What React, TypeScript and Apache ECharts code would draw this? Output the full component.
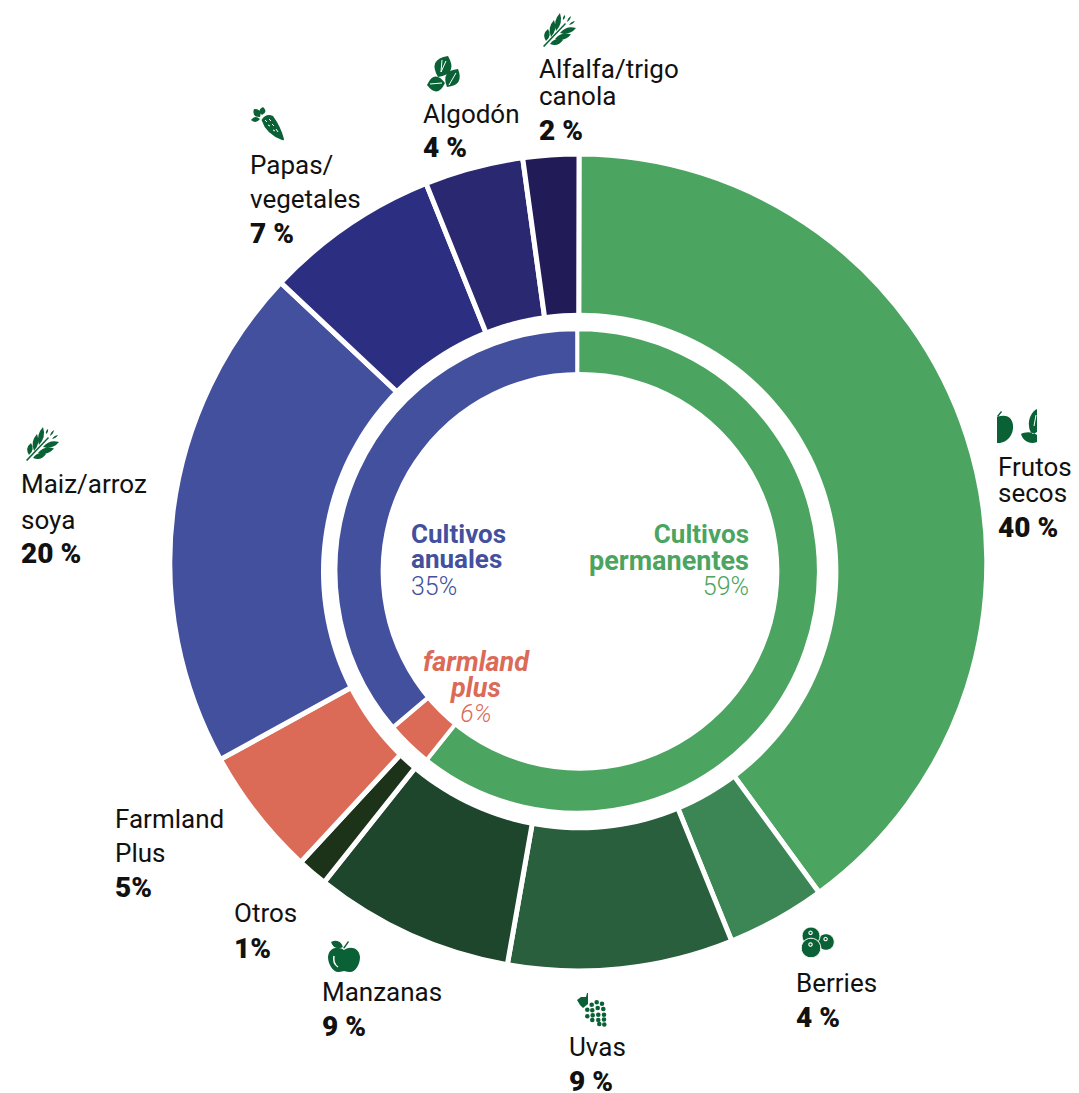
import React, { useEffect, useRef } from "react";
import * as echarts from "echarts";

// ---- data ----
const outerNames = ["Frutos secos", "Berries", "Uvas", "Manzanas", "Otros", "Farmland Plus", "Maiz/arroz soya", "Papas/vegetales", "Algodón", "Alfalfa/trigo canola"];
const outerValues = [39.9, 3.9, 8.9, 7.9, 1.2, 5.1, 20.0, 6.9, 3.9, 2.2];
const outerColors = ["#4CA461", "#3C8555", "#2A5F3D", "#1E462C", "#1C3319", "#DB6B57", "#43509E", "#2C2E81", "#2A2871", "#211C58"];
const innerNames = ["Cultivos permanentes", "farmland plus", "Cultivos anuales"];
const innerValues = [60.7, 3.1, 36.2];
const innerColors = ["#4CA461", "#DB6B57", "#43509E"];

const FONT = "Roboto";
const SIZE = 26;
const BOLD_SIZE = 28;
const INK = "#111111";
const ICON = "#0B6136";

// text: [string, x, baseline, bold?]
const outerLabels: [string, number, number, boolean][] = [
  ["Alfalfa/trigo", 539, 78, false], ["canola", 539, 105, false], ["2 %", 539, 140, true],
  ["Algodón", 423, 123, false], ["4 %", 423, 157, true],
  ["Papas/", 250, 174, false], ["vegetales", 250, 208, false], ["7 %", 250, 243, true],
  ["Maiz/arroz", 21, 493, false], ["soya", 21, 529, false], ["20 %", 21, 563, true],
  ["Farmland", 115, 828, false], ["Plus", 115, 862, false], ["5%", 115, 897, true],
  ["Otros", 234, 922, false], ["1%", 234, 958, true],
  ["Manzanas", 322, 1001, false], ["9 %", 322, 1036, true],
  ["Uvas", 569, 1056, false], ["9 %", 569, 1091, true],
  ["Berries", 796, 992, false], ["4 %", 796, 1027, true],
  ["Frutos", 998, 476, false], ["secos", 998, 502, false], ["40 %", 998, 537, true],
];

const leaf = (bx: number, by: number, tx: number, ty: number, w: number) => {
  const mx = (bx + tx) / 2, my = (by + ty) / 2;
  const dx = tx - bx, dy = ty - by, l = Math.hypot(dx, dy) || 1;
  const nx = (-dy / l) * w, ny = (dx / l) * w;
  return `M${bx} ${by}Q${mx + nx} ${my + ny} ${tx} ${ty}Q${mx - nx} ${my - ny} ${bx} ${by}Z`;
};
const dot = (x: number, y: number, r: number) => `M${x - r} ${y}A${r} ${r} 0 1 0 ${x + r} ${y}A${r} ${r} 0 1 0 ${x - r} ${y}Z`;

const wheatPath = [
  "M0 33L22 10L23 11L1.2 34Z",
  leaf(3, 28, 5, 16, 5.5), leaf(8, 24, 11, 7, 5.5), leaf(13, 18, 17, 0, 5.5),
  leaf(7, 31, 20, 27, 5.5), leaf(12, 26, 28, 21.5, 5.5), leaf(17, 20, 33, 15, 5.5),
  leaf(20, 7, 22, 2, 1.8), leaf(24, 9, 28, 3, 1.8), leaf(26, 12, 32, 8, 1.8),
].join("");
const seedsPath = [leaf(11, 21, 21, 0, 17), leaf(0, 29, 18, 27, 15), leaf(20, 31, 31, 13, 14)].join("");
const carrotPath = [
  "M10.5 13Q15 6 22 9Q30 20 33 32Q33 34 31 33Q15 27 10.5 13Z",
  leaf(11, 8, 12, 0, 6), leaf(9, 10, 3, 2, 7), leaf(9, 12, 0, 13, 5),
].join("");
const applePath = [
  "M16 12C10 8 1 9 0 19C0 27 6 35 11 34C13 34 15 33 16 33C17 33 19 34 21 34C27 35 32 27 32 19C31 9 22 8 16 12Z",
  leaf(15, 9, 3, 4, 7), "M15 10L20 3L21 4L16.5 10.5Z",
].join("");
const grapeDots = [[15.7, 11.7], [20.7, 9.3], [26, 10.7], [11.3, 16.7], [16.3, 17.3], [21.7, 15], [27.3, 16], [11.3, 23.3], [16.7, 22.3], [22.3, 21.7], [28, 21.7], [16.3, 27], [22.3, 27], [28, 26.5], [23.3, 31], [28.3, 31.5]];
const grapesPath = [
  ...grapeDots.map(([x, y]) => dot(x, y, 2.3)),
  "M1 7L5 4L10 4L11 0L12 0L12 7L12 11L7 15L4 12Z",
].join("");
const nutPath = "M0 6C8 3 15 5 16 14C17 24 10 31 3 32L0 32ZM0 5L4 0L5 1L1 6Z";
const almondsPath = "M17 0C12 2 8 10 9 17C9 21 11 24 13 25L17 23ZM1 25C4 23 12 22 17 26L17 33C10 36 3 32 1 25Z";
echarts.graphic.registerShape("wheat", echarts.graphic.extendPath(wheatPath, {}));
echarts.graphic.registerShape("seeds", echarts.graphic.extendPath(seedsPath, {}));
echarts.graphic.registerShape("carrot", echarts.graphic.extendPath(carrotPath, {}));
echarts.graphic.registerShape("apple", echarts.graphic.extendPath(applePath, {}));
echarts.graphic.registerShape("grapes", echarts.graphic.extendPath(grapesPath, {}));
echarts.graphic.registerShape("nut", echarts.graphic.extendPath(nutPath, {}));
echarts.graphic.registerShape("almonds", echarts.graphic.extendPath(almondsPath, {}));

const whiteLine = (x1: number, y1: number, x2: number, y2: number, w = 1) => ({
  type: "line", z: 11, shape: { x1, y1, x2, y2 }, style: { stroke: "#fff", lineWidth: w },
});
const icon = (type: string, x: number, y: number, details: any[] = []) => ({
  type: "group", x, y, children: [{ type, z: 10, style: { fill: ICON } }, ...details],
});
const berry = (x: number, y: number, r: number, z: number) => [
  { type: "circle", z, shape: { cx: x, cy: y, r }, style: { fill: ICON, stroke: "#fff", lineWidth: 1 } },
  { type: "circle", z, shape: { cx: x - r * 0.05, cy: y - r * 0.35, r: 1.7 }, style: { fill: ICON, stroke: "#fff", lineWidth: 1.1 } },
];
const icons: any[] = [
  icon("wheat", 543, 13),
  icon("wheat", 26, 427),
  icon("seeds", 427, 56, [whiteLine(15, 4, 14, 16), whiteLine(19, 5, 14, 16), whiteLine(3, 28, 15, 27), whiteLine(22, 29, 29, 17)]),
  icon("carrot", 251, 107, [whiteLine(14, 13, 16, 15), whiteLine(18, 12, 20, 14), whiteLine(17, 18, 19, 19), whiteLine(21, 17, 23, 19), whiteLine(22, 23, 24, 24), whiteLine(25, 22, 27, 25)]),
  icon("apple", 328, 938, [{ type: "bezierCurve", z: 11, shape: { x1: 6, y1: 18, cpx1: 5, cpy1: 23, cpx2: 7, cpy2: 27, x2: 10, y2: 29 }, style: { stroke: "#fff", lineWidth: 1.5, fill: "none" } }]),
  icon("grapes", 576, 993),
  icon("nut", 997, 411),
  icon("almonds", 1020, 409, [whiteLine(16, 6, 14, 17)]),
  { type: "group", x: 802, y: 927, children: [...berry(24, 15, 8.3, 10), ...berry(9, 9, 9, 11), ...berry(9, 21, 9.8, 12)] },
];

const label = (text: string, x: number, base: number, o: any = {}) => {
  const size = o.size ?? SIZE;
  return {
    type: "text", z: 20, x, y: base - 0.34 * size,
    style: {
      text, fill: o.color ?? INK, font: `${o.italic ? "italic " : ""}${o.weight ?? 400} ${size}px ${FONT}`,
      align: o.align ?? "left", verticalAlign: "middle",
    },
  };
};
const BLUE = innerColors[2], GREEN = innerColors[0], RED = innerColors[1];
const centerTexts = [
  label("Cultivos", 411, 543, { weight: 700, color: BLUE, size: 26 }),
  label("anuales", 411, 568, { weight: 700, color: BLUE, size: 26 }),
  label("35%", 411, 595, { weight: 300, color: BLUE, size: 25 }),
  label("Cultivos", 749, 543, { weight: 700, color: GREEN, align: "right", size: 26 }),
  label("permanentes", 749, 570, { weight: 700, color: GREEN, align: "right", size: 27 }),
  label("59%", 749, 595, { weight: 300, color: GREEN, align: "right", size: 25 }),
  label("farmland", 476, 671, { weight: 700, italic: true, color: RED, align: "center", size: 27 }),
  label("plus", 476, 697, { weight: 700, italic: true, color: RED, align: "center", size: 27 }),
  label("6%", 476, 722, { weight: 300, italic: true, color: RED, align: "center", size: 25 }),
];

const hole = (cx: number, cy: number, r: number) => ({
  type: "pie", center: [cx, cy], radius: [0, r], silent: true, label: { show: false }, labelLine: { show: false },
  itemStyle: { color: "#fff" }, data: [{ name: "", value: 1 }],
});

export default function App() {
  const ref = useRef<HTMLDivElement>(null);
  useEffect(() => {
    document.body.style.margin = "0";
    const chart = echarts.init(ref.current!, null, { renderer: "svg" });
    chart.setOption({
      animation: false,
      backgroundColor: "#fff",
      series: [
        {
          type: "pie", center: [578.3, 562.5], radius: [0, 408.5], startAngle: 89.9, clockwise: true,
          silent: true, label: { show: false }, labelLine: { show: false },
          itemStyle: { borderColor: "#fff", borderWidth: 5 },
          data: outerValues.map((value, i) => ({ name: outerNames[i], value, itemStyle: { color: outerColors[i] } })),
        },
        hole(579.7, 571.5, 258.7),
        {
          type: "pie", center: [577.2, 571], radius: [0, 241.7], startAngle: 90, clockwise: true,
          silent: true, label: { show: false }, labelLine: { show: false },
          itemStyle: { borderColor: "#fff", borderWidth: 4 },
          data: innerValues.map((value, i) => ({ name: innerNames[i], value, itemStyle: { color: innerColors[i] } })),
        },
        hole(580, 571.3, 199.4),
      ],
      graphic: [
        ...outerLabels.map(([t, x, y, bold]) => label(t, x, y, bold ? { weight: 900, size: BOLD_SIZE } : {})),
        ...centerTexts,
        ...icons,
      ],
    });
    return () => chart.dispose();
  }, []);
  return <div ref={ref} style={{ width: 1079, height: 1093 }} />;
}
